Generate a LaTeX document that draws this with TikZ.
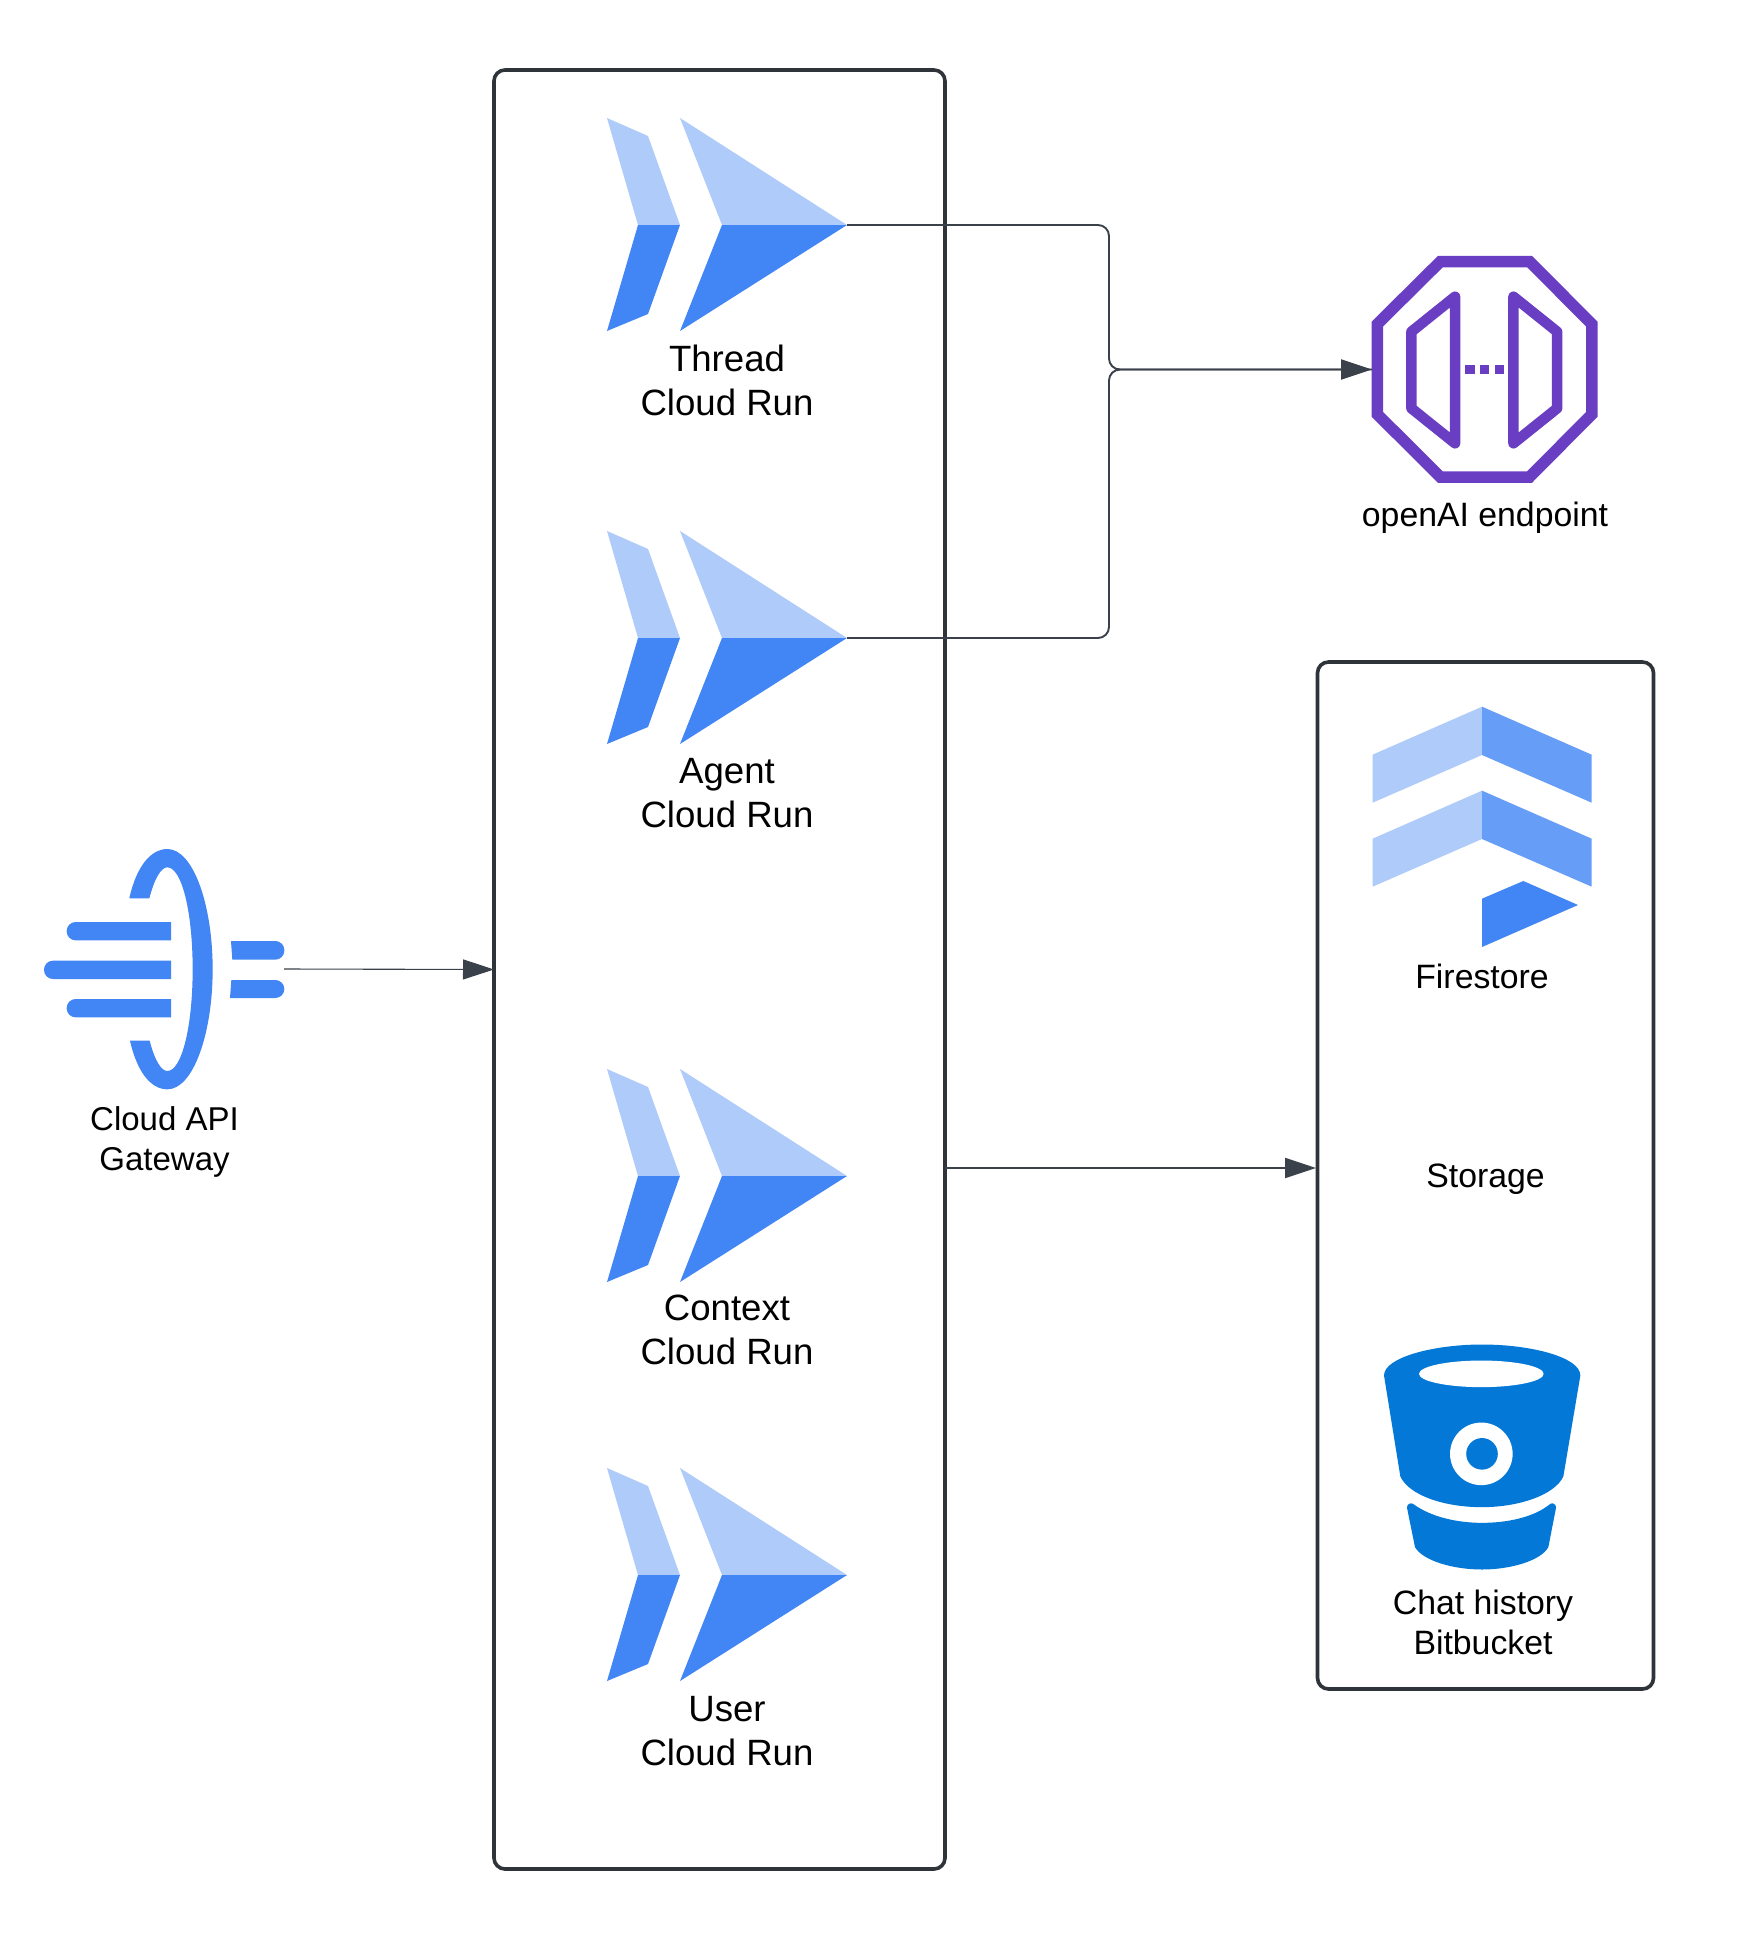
\documentclass[tikz,border=0pt]{standalone}
\usepackage{fontspec}
\setmainfont{Liberation Sans}
\usetikzlibrary{arrows.meta}
\definecolor{lightblue}{HTML}{AECBFA}
\definecolor{midblue}{HTML}{669DF6}
\definecolor{gblue}{HTML}{4285F4}
\definecolor{purp}{HTML}{6A3EC3}
\definecolor{bbblue}{HTML}{0478D7}
\definecolor{linegrey}{HTML}{3A414A}
\definecolor{boxline}{HTML}{2F343B}
\tikzset{
  container/.style={draw=boxline,line width=3.6pt,rounded corners=11pt,fill=none,inner sep=0pt,outer sep=0pt},
  iconbox/.style={inner sep=0pt,outer sep=0pt},
  biglabel/.style={align=center,inner sep=0pt,text=black,font=\fontsize{36.6pt}{44pt}\selectfont},
  smalllabel/.style={align=center,inner sep=0pt,text=black,font=\fontsize{33.8pt}{40pt}\selectfont},
  conn/.style={draw=linegrey,line width=1.9pt,rounded corners=11pt},
  thinconn/.style={draw=linegrey,line width=1.1pt},
  headed/.style={-{Triangle[length=31pt,width=20pt,fill=linegrey]}},
  pics/cloudrun/.style={code={
    \fill[lightblue] (607,-107) -- (648,-89) -- (680,0) -- (638,0) -- cycle;
    \fill[gblue] (607,106) -- (648,89) -- (680,0) -- (638,0) -- cycle;
    \fill[lightblue] (680,-107) -- (847,0) -- (722,0) -- cycle;
    \fill[gblue] (680,106) -- (847,0) -- (722,0) -- cycle;
  }},
}
\begin{document}
\begin{tikzpicture}[x=1pt,y=-1pt]
\useasboundingbox (0,0) rectangle (1741,1956);
\fill[white] (0,0) rectangle (1741,1956);

% containers
\node[container,minimum width=451pt,minimum height=1799pt] (services) at (719.5,969.5) {};
\node[container,minimum width=336pt,minimum height=1027pt] (storage) at (1485.5,1175.5) {};

% Cloud Run icons
\pic at (0,225) {cloudrun};
\pic at (0,638) {cloudrun};
\pic at (0,1176) {cloudrun};
\pic at (0,1575) {cloudrun};
\node[iconbox,minimum width=240pt,minimum height=213pt] (thread) at (727,225) {};
\node[iconbox,minimum width=240pt,minimum height=213pt] (agent) at (727,638) {};
\node[iconbox,minimum width=240pt,minimum height=213pt] (context) at (727,1176) {};
\node[iconbox,minimum width=240pt,minimum height=213pt] (user) at (727,1575) {};

\node[biglabel] (threadlabel) at (727,380) {Thread\\Cloud Run};
\node[biglabel] (agentlabel) at (727,793) {Agent\\Cloud Run};
\node[biglabel] (contextlabel) at (727,1329.5) {Context\\Cloud Run};
\node[biglabel] (userlabel) at (727,1731) {User\\Cloud Run};

% Gateway icon
\begin{scope}[shift={(20,830)},x=0.33333pt,y=-0.33333pt]
  \fill[gblue] (328,205) .. controls (350,105) and (395,57) .. (442,57)
    .. controls (520,57) and (578,225) .. (578,418)
    .. controls (578,610) and (520,778) .. (442,778)
    .. controls (395,778) and (352,730) .. (330,632)
    -- (389,632)
    .. controls (405,695) and (425,723) .. (442,723)
    .. controls (485,723) and (518,590) .. (518,418)
    .. controls (518,245) and (485,112) .. (442,112)
    .. controls (425,112) and (405,140) .. (388,205) -- cycle;
  \fill[gblue,rounded corners=9pt] (453,331) -- (140,331) -- (140,276) -- (453,276);
  \fill[gblue,rounded corners=9pt] (453,447) -- (72,447) -- (72,392) -- (453,392);
  \fill[gblue,rounded corners=9pt] (453,562) -- (140,562) -- (140,507) -- (453,507);
  \fill[gblue,rounded corners=9pt] (633,333) -- (793,333) -- (793,389) -- (637,389);
  \fill[gblue,rounded corners=9pt] (634,450) -- (793,450) -- (793,504) -- (630,504);
\end{scope}
\node[iconbox,minimum width=240pt,minimum height=240pt] (gateway) at (164,969) {};
\node[smalllabel,font=\fontsize{33pt}{40pt}\selectfont] (gatewaylabel) at (164.5,1142) {Cloud API\\Gateway};

% openAI endpoint icon
\begin{scope}[shift={(1081.2,240)},x=0.3436pt,y=-0.33333pt]
  \draw[purp,line width=11.5pt,miter limit=4]
    (1045,65) -- (1305,65) -- (1486,252) -- (1486,523) -- (1305,711) -- (1045,711) -- (862,523) -- (862,252) -- cycle;
  \draw[purp,line width=10.5pt,line join=round]
    (1088,170) -- (961,275) -- (961,505) -- (1088,610) -- cycle;
  \draw[purp,line width=10.5pt,line join=round]
    (1258,170) -- (1385,275) -- (1385,505) -- (1258,610) -- cycle;
  \fill[purp] (1117,374) rectangle (1145,403);
  \fill[purp] (1160,374) rectangle (1188,403);
  \fill[purp] (1203,374) rectangle (1231,403);
\end{scope}
\node[iconbox,minimum width=224pt,minimum height=225pt] (openai) at (1484,369.5) {};
\node[smalllabel] (openailabel) at (1485,518) {openAI endpoint};

% Firestore icon
\begin{scope}[shift={(1341,690)},x=0.33333pt,y=-0.33333pt]
  \fill[lightblue] (423,50) -- (95,194) -- (95,338) -- (423,195) -- cycle;
  \fill[midblue] (423,50) -- (752,194) -- (752,338) -- (423,195) -- cycle;
  \fill[lightblue] (423,302) -- (95,446) -- (95,590) -- (423,447) -- cycle;
  \fill[midblue] (423,302) -- (752,446) -- (752,590) -- (423,447) -- cycle;
  \fill[gblue] (423,626) -- (547,573) -- (711,645) -- (423,771) -- cycle;
\end{scope}
\node[smalllabel] (firestorelabel) at (1482,976) {Firestore};
\node[smalllabel] (storagelabel) at (1485.5,1179) {Storage};

% Bitbucket icon
\begin{scope}[shift={(1341,1320.5)},x=0.33333pt,y=-0.33333pt]
  \fill[bbblue] (129,165) .. controls (129,110) and (280,72) .. (423,72)
    .. controls (570,72) and (718,110) .. (718,165)
    -- (667,468) .. controls (640,525) and (530,560) .. (423,560)
    .. controls (310,560) and (205,525) .. (178,468) -- cycle;
  \fill[white] (421,160) ellipse [x radius=62.3pt,y radius=13.3pt];
  \fill[white] (421,400) circle [radius=31.3pt];
  \fill[bbblue] (423,400) circle [radius=15.8pt];
  \fill[bbblue] (198,562) .. controls (197,552) and (208,545) .. (216,550)
    .. controls (270,590) and (350,607) .. (423,607)
    .. controls (500,607) and (580,590) .. (628,550)
    .. controls (635,545) and (646,552) .. (645,562)
    -- (622,680) .. controls (600,720) and (510,747) .. (423,747)
    .. controls (335,747) and (245,720) .. (222,680) -- cycle;
\end{scope}
\node[smalllabel] (bitbucketlabel) at (1483,1622) {Chat history\\Bitbucket};

% connectors
\coordinate (junction) at (1109,369.5);
\draw[conn,headed] (thread.east) -| (junction) -- (openai.west);
\draw[conn] (agent.east) -| (junction) -- (openai.west);
\draw[thinconn,headed] (gateway.east) -- (services.west);
\draw[conn,headed,shorten >=1.5pt] (services.east |- 0,1168) -- (storage.west |- 0,1168);
\end{tikzpicture}
\end{document}
